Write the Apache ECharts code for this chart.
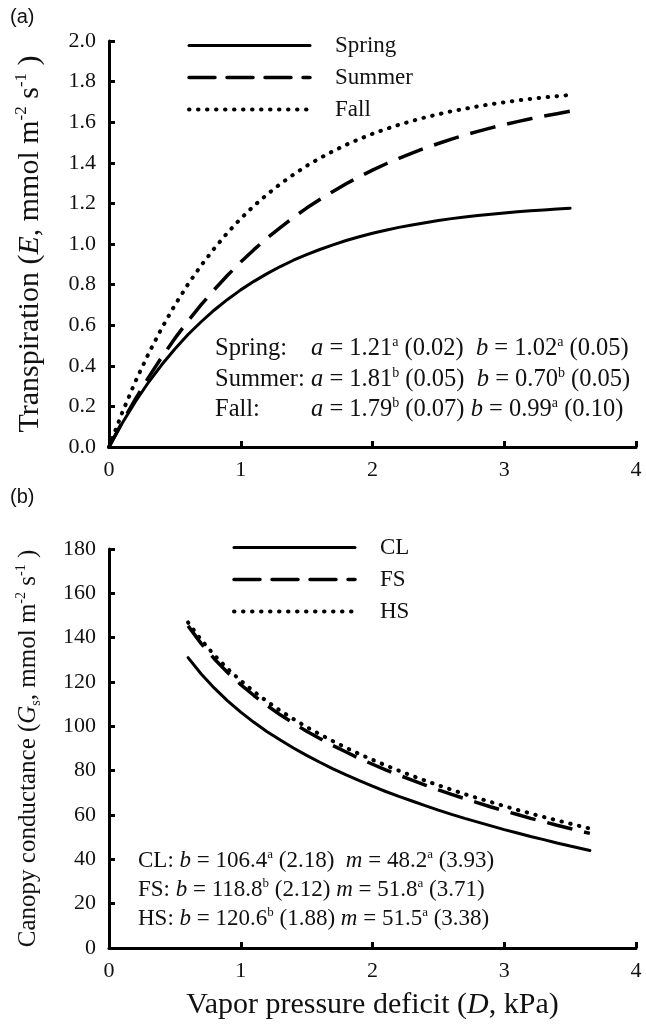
<!doctype html>
<html lang="en">
<head>
    <meta charset="UTF-8">
    <script src="https://cdn.jsdelivr.net/npm/echarts@6/dist/echarts.min.js"></script>
    <title>Transpiration and canopy conductance</title>
    <style>
        html, body { margin: 0; padding: 0; background: #fff; }
    </style>
</head>
<body>
<div id="main" style="width: 646px;height:1026px;"></div>
</body>
<script>
    // (a) transpiration (E) vs vapor pressure deficit (D)
    var dTop = [0, 0.1, 0.2, 0.3, 0.4, 0.5, 0.6, 0.7, 0.8, 0.9, 1.0, 1.1, 1.2, 1.3, 1.4, 1.5, 1.6, 1.7,
        1.8, 1.9, 2.0, 2.1, 2.2, 2.3, 2.4, 2.5, 2.6, 2.7, 2.8, 2.9, 3.0, 3.1, 3.2, 3.3, 3.4, 3.5];
    var spring = [0, 0.117, 0.223, 0.319, 0.405, 0.483, 0.554, 0.617, 0.675, 0.727, 0.774, 0.816, 0.854,
        0.889, 0.920, 0.948, 0.973, 0.996, 1.017, 1.036, 1.053, 1.068, 1.082, 1.094, 1.105, 1.116, 1.125,
        1.133, 1.140, 1.147, 1.153, 1.159, 1.164, 1.168, 1.172, 1.176];
    var summer = [0, 0.122, 0.236, 0.343, 0.442, 0.535, 0.621, 0.701, 0.776, 0.846, 0.911, 0.972, 1.029,
        1.081, 1.131, 1.177, 1.219, 1.259, 1.297, 1.331, 1.364, 1.394, 1.422, 1.448, 1.473, 1.495, 1.517,
        1.537, 1.555, 1.572, 1.588, 1.603, 1.617, 1.630, 1.642, 1.654];
    var fall = [0, 0.169, 0.322, 0.460, 0.585, 0.699, 0.802, 0.895, 0.979, 1.056, 1.125, 1.188, 1.244,
        1.296, 1.342, 1.385, 1.423, 1.457, 1.489, 1.517, 1.543, 1.566, 1.587, 1.606, 1.624, 1.639, 1.654,
        1.666, 1.678, 1.689, 1.698, 1.707, 1.715, 1.722, 1.728, 1.734];

    // (b) canopy conductance (Gs) vs vapor pressure deficit (D)
    var dBot = [0.6, 0.7, 0.8, 0.9, 1.0, 1.1, 1.2, 1.3, 1.4, 1.5, 1.6, 1.7, 1.8, 1.9, 2.0, 2.1, 2.2,
        2.3, 2.4, 2.5, 2.6, 2.7, 2.8, 2.9, 3.0, 3.1, 3.2, 3.3, 3.4, 3.5, 3.6, 3.65];
    var cl = [131.0, 123.6, 117.2, 111.5, 106.4, 101.8, 97.6, 93.8, 90.2, 86.9, 83.8, 80.8, 78.1, 75.5,
        73.0, 70.6, 68.4, 66.3, 64.2, 62.2, 60.3, 58.5, 56.8, 55.1, 53.4, 51.9, 50.3, 48.9, 47.4, 46.0, 44.7, 44.0];
    var fs = [145.3, 137.3, 130.4, 124.3, 118.8, 113.9, 109.4, 105.2, 101.4, 97.8, 94.5, 91.3, 88.4, 85.5,
        82.9, 80.4, 78.0, 75.7, 73.5, 71.3, 69.3, 67.4, 65.5, 63.6, 61.9, 60.2, 58.5, 57.0, 55.4, 53.9, 52.4, 51.7];
    var hs = [146.9, 139.0, 132.1, 126.0, 120.6, 115.7, 111.2, 107.1, 103.3, 99.7, 96.4, 93.3, 90.3, 87.5,
        84.9, 82.4, 80.0, 77.7, 75.5, 73.4, 71.4, 69.4, 67.6, 65.8, 64.0, 62.3, 60.7, 59.1, 57.6, 56.1, 54.6, 53.9];

    var SERIF = '"Liberation Serif", "Times New Roman", serif';
    var SANS = '"Liberation Sans", Arial, sans-serif';
    var INK = '#111';

    function pairs(xs, ys) {
        return xs.map(function (x, i) { return [x, ys[i]]; });
    }

    function noteRich(size) {
        return {
            i: {fontFamily: SERIF, fontSize: size, fontStyle: 'italic', color: INK, lineHeight: size + 3},
            s: {fontFamily: SERIF, fontSize: Math.round(size * 0.56), color: INK,
                lineHeight: Math.round(size * 0.6), verticalAlign: 'top'}
        };
    }
    function nameRich(size) {
        return {
            n: {fontFamily: SERIF, fontSize: size, color: INK, lineHeight: size + 4},
            i: {fontFamily: SERIF, fontSize: size, fontStyle: 'italic', color: INK, lineHeight: size + 4},
            sup: {fontFamily: SERIF, fontSize: Math.round(size * 0.58), color: INK,
                lineHeight: Math.round(size * 0.6), verticalAlign: 'top'},
            sub: {fontFamily: SERIF, fontSize: Math.round(size * 0.58), color: INK,
                lineHeight: Math.round(size * 0.6), verticalAlign: 'bottom'}
        };
    }

    function xAxisOf(idx, name) {
        return {
            gridIndex: idx, type: 'value', min: 0, max: 4, interval: 1,
            name: name || '', nameLocation: 'middle', nameGap: 40,
            nameTextStyle: {fontFamily: SERIF, fontSize: 30, color: INK, rich: nameRich(30)},
            axisLine: {lineStyle: {color: '#000', width: 3}},
            axisTick: {inside: true, length: 6, lineStyle: {color: '#000', width: 3}},
            axisLabel: {fontFamily: SERIF, fontSize: 22, color: INK, margin: 12},
            splitLine: {show: false}
        };
    }

    function yAxisOf(idx, max, interval, name, size, gap, fmt) {
        return {
            gridIndex: idx, type: 'value', min: 0, max: max, interval: interval,
            name: name, nameLocation: 'middle', nameGap: gap,
            nameTextStyle: {fontFamily: SERIF, fontSize: size, color: INK, rich: nameRich(size)},
            axisLine: {lineStyle: {color: '#000', width: 3}},
            axisTick: {inside: true, length: 6, lineStyle: {color: '#000', width: 3}},
            axisLabel: {fontFamily: SERIF, fontSize: 22, color: INK, margin: 13, formatter: fmt},
            splitLine: {show: false}
        };
    }

    function lineSeries(name, idx, data, kind) {
        var ls = {color: '#000', width: 3, type: 'solid', cap: 'round'};
        if (kind === 'dash') { ls.width = 3.5; ls.type = [26, 12]; ls.cap = 'butt'; }
        if (kind === 'dot') { ls.width = 4; ls.type = [0.5, 8.5]; }
        return {
            name: name, type: 'line', xAxisIndex: idx, yAxisIndex: idx,
            data: data, smooth: false,
            symbol: 'none', showSymbol: false, lineStyle: ls, itemStyle: {color: '#000'},
            animation: false
        };
    }

    function legendOf(left, top, names) {
        return {
            orient: 'vertical', left: left, top: top, data: names,
            itemWidth: 121, itemHeight: 14, itemGap: 9,
            itemStyle: {opacity: 0},
            lineStyle: {width: 'inherit', cap: 'round'},
            textStyle: {fontFamily: SERIF, fontSize: 23, color: INK, padding: [0, 0, 0, 20]},
            selectedMode: false
        };
    }

    function note(x, y, text, size) {
        return {
            type: 'text', x: x, y: y,
            style: {text: text, fontFamily: SERIF, fontSize: size, fill: INK,
                verticalAlign: 'middle', rich: noteRich(size)}
        };
    }

    var myChart = echarts.init(document.getElementById('main'));

    var option = {
        backgroundColor: '#fff',
        grid: [
            {left: 109, top: 41, width: 527, height: 406},
            {left: 109, top: 549, width: 527, height: 399}
        ],
        xAxis: [xAxisOf(0), xAxisOf(1, '{n|Vapor pressure deficit (}{i|D}{n|, kPa)}')],
        yAxis: [
            yAxisOf(0, 2, 0.2, '{n|Transpiration (}{i|E}{n|, mmol m}{sup|-2}{n| s}{sup|-1}{n| )}', 30, 62,
                function (v) { return v.toFixed(1); }),
            yAxisOf(1, 180, 20, '{n|Canopy conductance (}{i|G}{sub|s}{n|, mmol m}{sup|-2}{n| s}{sup|-1}{n| )}', 25, 66,
                function (v) { return String(v); })
        ],
        legend: [
            legendOf(182, 29, ['Spring', 'Summer', 'Fall']),
            legendOf(227, 531, ['CL', 'FS', 'HS'])
        ],
        series: [
            lineSeries('Spring', 0, pairs(dTop, spring), 'solid'),
            lineSeries('Summer', 0, pairs(dTop, summer), 'dash'),
            lineSeries('Fall', 0, pairs(dTop, fall), 'dot'),
            lineSeries('CL', 1, pairs(dBot, cl), 'solid'),
            lineSeries('FS', 1, pairs(dBot, fs), 'dash'),
            lineSeries('HS', 1, pairs(dBot, hs), 'dot')
        ],
        graphic: [
            {type: 'text', x: 10, y: 7, style: {text: '(a)', fontFamily: SANS, fontSize: 20, fill: INK}},
            {type: 'text', x: 10, y: 487, style: {text: '(b)', fontFamily: SANS, fontSize: 20, fill: INK}},
            note(215, 349, 'Spring:', 24.5),
            note(311, 349, '{i|a} = 1.21{s|a} (0.02)  {i|b} = 1.02{s|a} (0.05)', 24.5),
            note(215, 380, 'Summer:', 24.5),
            note(311, 380, '{i|a} = 1.81{s|b} (0.05)  {i|b} = 0.70{s|b} (0.05)', 24.5),
            note(215, 410, 'Fall:', 24.5),
            note(311, 410, '{i|a} = 1.79{s|b} (0.07) {i|b} = 0.99{s|a} (0.10)', 24.5),
            note(138, 861, 'CL: {i|b} = 106.4{s|a} (2.18)  {i|m} = 48.2{s|a} (3.93)', 23),
            note(138, 890, 'FS: {i|b} = 118.8{s|b} (2.12) {i|m} = 51.8{s|a} (3.71)', 23),
            note(138, 919, 'HS: {i|b} = 120.6{s|b} (1.88) {i|m} = 51.5{s|a} (3.38)', 23)
        ]
    };

    myChart.setOption(option);
</script>
</html>
